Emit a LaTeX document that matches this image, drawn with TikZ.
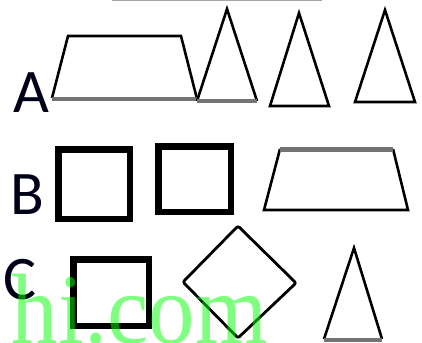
\documentclass[tikz,border=0pt]{standalone}
\usepackage{fontspec}
\usepackage{xcolor}
\usepackage{tikz}
\newfontfamily\letterfont{Carlito}
\newfontfamily\markfont[FakeStretch=0.93]{Liberation Serif}

\begin{document}
\begin{tikzpicture}[x=1pt, y=-1pt,
  outline/.style = {draw=black, line width=2.6pt, line join=miter},
  faint/.style   = {draw=black!55, line width=3.6pt},
  heavy/.style   = {draw=black, line width=6.5pt},
  lbl/.style     = {inner sep=0pt, anchor=base, text=black!90!blue,
                    font=\letterfont\fontsize{62}{62}\selectfont},
  wmark/.style   = {inner sep=0pt, anchor=base west, text=green, opacity=0.5,
                   font=\markfont\fontsize{100}{100}\selectfont}
]
\useasboundingbox (0,0) rectangle (422,342);
\clip (0,0) rectangle (422,342);
% thin line along the top
\draw[black!35, line width=1.5pt] (112,0.7) -- (322,0.7);

% row A
\node[lbl] (labA) at (31,112) {A};
\draw[outline] (52,98) -- (68,36) -- (181,36) -- (197,99);
\draw[faint] (52,99) -- (197,99);
\draw[outline] (197,101) -- (227,9) -- (257,101);
\draw[faint] (197,101) -- (257,101);
\draw[outline] (270,106) -- (299,13) -- (329,106) -- cycle;
\draw[outline] (355,102) -- (385,10) -- (415,102) -- cycle;

% row B
\node[lbl] (labB) at (27,214) {B};
\draw[heavy] (58.3,149.3) rectangle (130,219);
\draw[heavy] (158.3,146.3) rectangle (231,212);
\draw[outline] (280,149) -- (264,210) -- (408,210) -- (393,149);
\draw[faint, line width=5pt] (280,149) -- (393,149);

% row C
\node[lbl] (labC) at (20,299) {C};
\draw[heavy] (73.3,259.3) rectangle (148.8,326);
\draw[outline, line width=2.8pt, rounded corners=2pt]
  (238,226) -- (296,283) -- (238,338) -- (183,282) -- cycle;
\draw[outline] (324,339) -- (354,248) -- (382,339);
\draw[faint] (324,340) -- (382,340);

% watermark
\node[wmark] (mark) at (11.5,343) {hi.com};
\end{tikzpicture}
\end{document}
